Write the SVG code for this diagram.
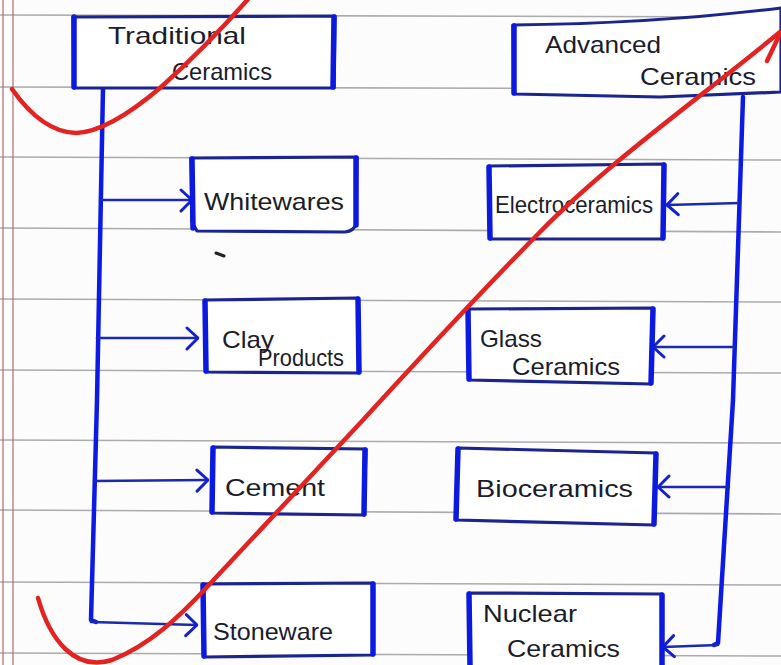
<svg xmlns="http://www.w3.org/2000/svg" width="781" height="665" viewBox="0 0 781 665">
<style>
.rule{stroke:#8f9290;stroke-width:1.6;opacity:0.75}
.margin{stroke:#b86a6a;stroke-width:1.2}
.box{fill:#ffffff;stroke:#1c2490;stroke-width:3.2;stroke-linejoin:round}
.side{stroke:#0c1ae0;stroke-width:5.5;stroke-linecap:round}
.lbl{font-family:"Liberation Sans","DejaVu Sans",sans-serif;font-size:24px;fill:#1a1c2c}
.trunk{fill:none;stroke:#0c1ae6;stroke-width:4.5;stroke-linecap:round;stroke-linejoin:round}
.branch{fill:none;stroke:#1a2ab0;stroke-width:2.6;stroke-linecap:round}
.red{fill:none;stroke:#e32222;stroke-width:4.5;stroke-linecap:round;stroke-linejoin:round}
</style>
<defs>
<marker id="head" viewBox="0 0 14 26" markerWidth="14" markerHeight="26" refX="13" refY="13" orient="auto" markerUnits="userSpaceOnUse">
<path d="M2,3 L13,13 L2,24" fill="none" stroke="#1420d0" stroke-width="3" stroke-linecap="round" stroke-linejoin="round"/>
</marker>
</defs>
<rect width="781" height="665" fill="#fcfcfc"/>
<g id="paper">
<line class="rule" x1="0" y1="15" x2="781" y2="17"/>
<line class="rule" x1="0" y1="87" x2="781" y2="89"/>
<line class="rule" x1="0" y1="157" x2="781" y2="160"/>
<line class="rule" x1="0" y1="228" x2="781" y2="232"/>
<line class="rule" x1="0" y1="299" x2="781" y2="302"/>
<line class="rule" x1="0" y1="370" x2="781" y2="373"/>
<line class="rule" x1="0" y1="440" x2="781" y2="443"/>
<line class="rule" x1="0" y1="510" x2="781" y2="514"/>
<line class="rule" x1="0" y1="582" x2="781" y2="585"/>
<line class="rule" x1="0" y1="653" x2="781" y2="656"/>
<line class="margin" x1="3" y1="0" x2="3" y2="665"/>
<line class="margin" x1="13" y1="0" x2="13" y2="665"/>
<path d="M216,253 L224,256" stroke="#222" stroke-width="3" stroke-linecap="round"/>
</g>
<g id="connectors">
<path class="trunk" d="M103,88 L97,400 L91,620 L96,622"/>
<path class="branch" d="M100,200 L192,200" marker-end="url(#head)"/>
<path class="branch" d="M97,338 L198,338" marker-end="url(#head)"/>
<path class="branch" d="M94,481 L208,480" marker-end="url(#head)"/>
<path class="branch" d="M91,622 L197,625" marker-end="url(#head)"/>
<path class="trunk" d="M743,97 L733,400 L718,643 L714,645"/>
<path class="branch" d="M740,203 L667,205" marker-end="url(#head)"/>
<path class="branch" d="M735,347 L653,347" marker-end="url(#head)"/>
<path class="branch" d="M729,487 L658,487" marker-end="url(#head)"/>
<path class="branch" d="M718,645 L663,647" marker-end="url(#head)"/>
</g>
<g id="traditional">
<path class="box" d="M73,17 L335,16 L334,88 L74,88 Z"/>
<line class="side" x1="74" y1="17" x2="74" y2="87"/>
<line class="side" x1="334" y1="17" x2="333" y2="87"/>
<text class="lbl" x="108" y="44" textLength="138" lengthAdjust="spacingAndGlyphs">Traditional</text>
<text class="lbl" x="172" y="80" textLength="100" lengthAdjust="spacingAndGlyphs">Ceramics</text>
</g>
<g id="advanced">
<path class="box" d="M513,25 Q650,24 781,8 L781,92 L660,97 L514,94 Z"/>
<line class="side" x1="514" y1="26" x2="514" y2="93"/>
<text class="lbl" x="545" y="53" textLength="116" lengthAdjust="spacingAndGlyphs">Advanced</text>
<text class="lbl" x="640" y="85" textLength="116" lengthAdjust="spacingAndGlyphs">Ceramics</text>
</g>
<g id="whitewares">
<path class="box" d="M191,158 L357,157 L356,224 Q354,231 345,232 L197,231 L192,222 Z"/>
<line class="side" x1="192" y1="159" x2="193" y2="228"/>
<line class="side" x1="356" y1="158" x2="356" y2="225"/>
<text class="lbl" x="204" y="210" textLength="140" lengthAdjust="spacingAndGlyphs">Whitewares</text>
</g>
<g id="clay">
<path class="box" d="M205,300 L358,298 L359,373 L206,372 Z"/>
<line class="side" x1="205" y1="301" x2="206" y2="371"/>
<line class="side" x1="358" y1="299" x2="359" y2="372"/>
<text class="lbl" x="222" y="348" textLength="52" lengthAdjust="spacingAndGlyphs">Clay</text>
<text class="lbl" x="258" y="366" textLength="86" lengthAdjust="spacingAndGlyphs">Products</text>
</g>
<g id="cement">
<path class="box" d="M213,447 L366,449 L364,515 L212,513 Z"/>
<line class="side" x1="213" y1="448" x2="212" y2="512"/>
<line class="side" x1="365" y1="450" x2="364" y2="514"/>
<text class="lbl" x="225" y="496" textLength="100" lengthAdjust="spacingAndGlyphs">Cement</text>
</g>
<g id="stoneware">
<path class="box" d="M203,584 L373,583 L373,655 L204,657 Z"/>
<line class="side" x1="203" y1="585" x2="204" y2="656"/>
<line class="side" x1="373" y1="584" x2="373" y2="654"/>
<text class="lbl" x="213" y="640" textLength="120" lengthAdjust="spacingAndGlyphs">Stoneware</text>
</g>
<g id="electroceramics">
<path class="box" d="M489,166 L664,164 L663,239 L490,239 Z"/>
<line class="side" x1="489" y1="167" x2="490" y2="238"/>
<line class="side" x1="664" y1="165" x2="663" y2="238"/>
<text class="lbl" x="495" y="213" textLength="158" lengthAdjust="spacingAndGlyphs">Electroceramics</text>
</g>
<g id="glass">
<path class="box" d="M468,309 L653,308 L651,384 L469,380 Z"/>
<line class="side" x1="468" y1="310" x2="469" y2="379"/>
<line class="side" x1="653" y1="309" x2="651" y2="383"/>
<text class="lbl" x="480" y="347" textLength="62" lengthAdjust="spacingAndGlyphs">Glass</text>
<text class="lbl" x="512" y="375" textLength="108" lengthAdjust="spacingAndGlyphs">Ceramics</text>
</g>
<g id="bioceramics">
<path class="box" d="M458,448 L656,453 L654,525 L456,520 Z"/>
<line class="side" x1="458" y1="449" x2="456" y2="519"/>
<line class="side" x1="656" y1="454" x2="654" y2="524"/>
<text class="lbl" x="476" y="497" textLength="157" lengthAdjust="spacingAndGlyphs">Bioceramics</text>
</g>
<g id="nuclear">
<path class="box" d="M469,593 L662,594 L662,668 L470,668 Z"/>
<line class="side" x1="469" y1="594" x2="470" y2="665"/>
<line class="side" x1="662" y1="595" x2="662" y2="665"/>
<text class="lbl" x="483" y="622" textLength="94" lengthAdjust="spacingAndGlyphs">Nuclear</text>
<text class="lbl" x="507" y="657" textLength="113" lengthAdjust="spacingAndGlyphs">Ceramics</text>
</g>
<g id="annotation">
<path class="red" d="M12,89 Q42,132 76,133 Q108,132 160,88 Q205,48 250,-3"/>
<path class="red" d="M38,598 C50,640 75,672 112,660 C150,645 180,616 207,587 C260,530 330,456 363,420 S470,303 540,232 S700,98 780,32"/>
<path class="red" d="M767,61 L779,36"/>
</g>
</svg>
